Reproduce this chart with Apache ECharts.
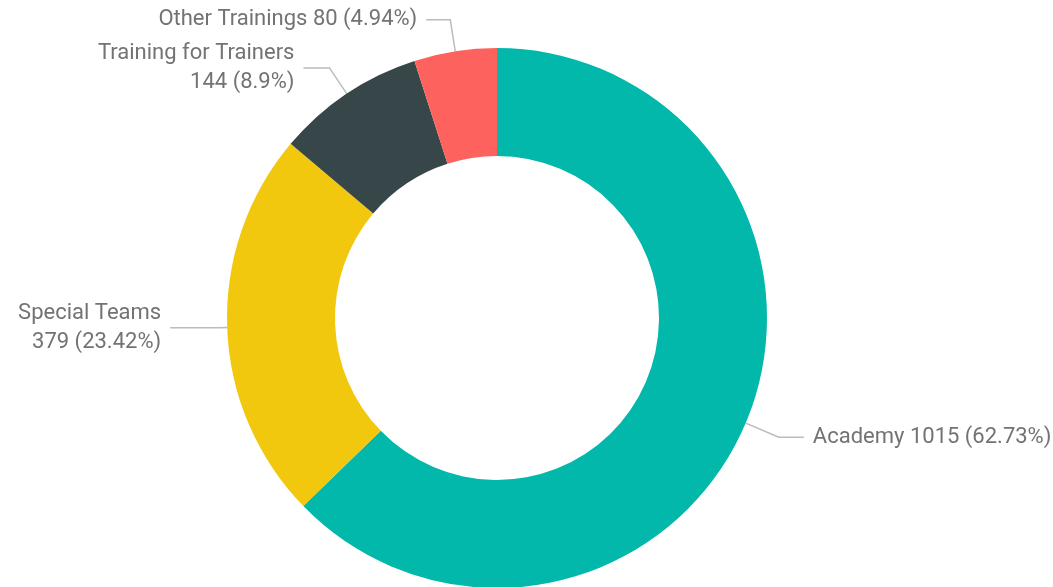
<!DOCTYPE html>
<html>
<head>
<meta charset="utf-8">
<script src="https://cdn.jsdelivr.net/npm/echarts@6/dist/echarts.min.js"></script>
<style>
  html, body { margin: 0; padding: 0; background: #fff; }
  #main { width: 1053px; height: 587px; }
</style>
</head>
<body>
<div id="main"></div>
<script>
var chartDom = document.getElementById('main');
var myChart = echarts.init(chartDom);
var option;

const categories = ['Academy', 'Special Teams', 'Training for Trainers', 'Other Trainings'];
const values = [1015, 379, 144, 80];
const colors = ['#01B8AA', '#F2C80F', '#374649', '#FD625E'];
// labels that break onto two lines
const twoLine = ['Special Teams', 'Training for Trainers'];
const lineLen = [[36, 25], [7, 50], [31, 26], [32, 24]];

const total = values.reduce((a, b) => a + b, 0);

option = {
  color: colors,
  animation: false,
  series: [
    {
      type: 'pie',
      center: [497, 318],
      radius: [162, 270],
      startAngle: 90,
      clockwise: true,
      avoidLabelOverlap: false,
      label: {
        show: true,
        position: 'outside',
        fontFamily: 'Roboto',
        fontSize: 22,
        lineHeight: 29,
        color: '#737373',
        distanceToLabelLine: 9,
        formatter: function (p) {
          var pct = Math.round(p.value / total * 10000) / 100;
          var sep = twoLine.indexOf(p.name) >= 0 ? '\n' : ' ';
          return p.name + sep + p.value + ' (' + pct + '%)';
        }
      },
      labelLine: {
        show: true,
        lineStyle: { color: '#BBBBBB', width: 1.5 }
      },
      data: categories.map(function (c, i) {
        return {
          name: c,
          value: values[i],
          labelLine: { length: lineLen[i][0], length2: lineLen[i][1] }
        };
      })
    }
  ]
};

option && myChart.setOption(option);
</script>
</body>
</html>
